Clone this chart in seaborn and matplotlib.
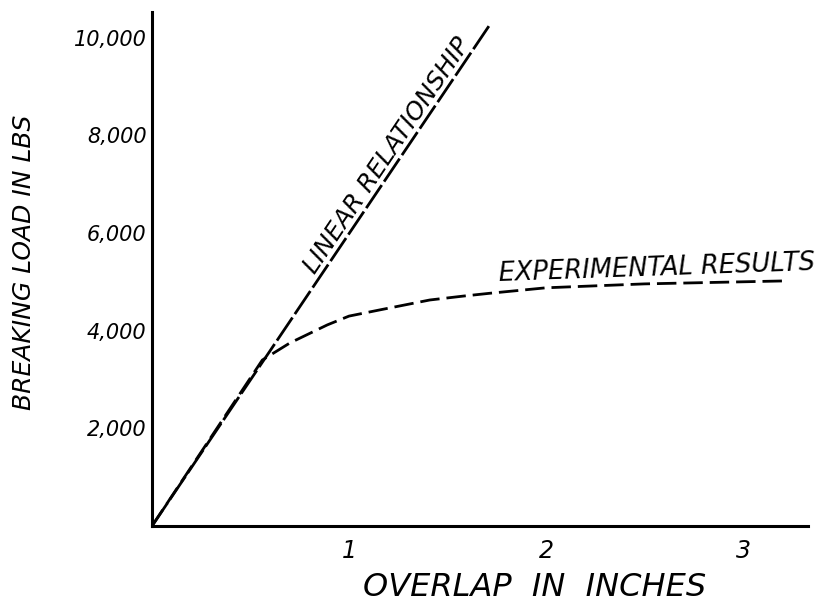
import matplotlib
matplotlib.use("Agg")
import matplotlib.pyplot as plt
import seaborn as sns
import pandas as pd

# ---- data ----
linear_x = [0.0, 1.72]
linear_y = [0, 10300]

exp_x = [0.0, 0.56, 0.70, 0.89, 1.00, 1.16, 1.41, 1.58, 1.72, 2.00, 2.50, 3.20]
exp_y = [0, 3400, 3750, 4120, 4300, 4430, 4630, 4710, 4770, 4880, 4960, 5020]

x_ticks = [1, 2, 3]
x_tick_labels = ["1", "2", "3"]
y_ticks = [2000, 4000, 6000, 8000, 10000]
y_tick_labels = ["2,000", "4,000", "6,000", "8,000", "10,000"]

x_label = "OVERLAP  IN  INCHES"
y_label = "BREAKING LOAD IN LBS"
linear_text = "LINEAR RELATIONSHIP"
exp_text = "EXPERIMENTAL RESULTS"

sns.set_style("white")
plt.rcParams["font.family"] = ["DejaVu Sans"]

fig = plt.figure(figsize=(8.3, 6.04), dpi=100)
ax = fig.add_axes([152 / 830, 1 - 526 / 604, 656 / 830, 514 / 604])

lin_df = pd.DataFrame({"x": linear_x, "y": linear_y})
exp_df = pd.DataFrame({"x": exp_x, "y": exp_y})

sns.lineplot(data=lin_df, x="x", y="y", ax=ax, color="black", lw=2.0,
             sort=False, estimator=None, linestyle=(0, (10, 1.5)))
sns.lineplot(data=exp_df, x="x", y="y", ax=ax, color="black", lw=2.0,
             sort=False, estimator=None, linestyle=(0, (7, 2.5)))

ax.set_xlim(0, 3.33)
ax.set_ylim(0, 10530)

for side in ["top", "right"]:
    ax.spines[side].set_visible(False)
for side in ["left", "bottom"]:
    ax.spines[side].set_color("black")
    ax.spines[side].set_linewidth(2.2)

ax.set_xticks(x_ticks)
ax.set_xticklabels(x_tick_labels, fontsize=17, style="italic")
ax.set_yticks(y_ticks)
ax.set_yticklabels(y_tick_labels, fontsize=15, style="italic")
ax.tick_params(axis="x", direction="in", length=18, width=1.8, pad=9, colors="black")
ax.tick_params(axis="y", direction="in", length=14, width=1.5, pad=4, colors="black")
ax.set_xlabel("")
ax.set_ylabel("")

fig.text(535 / 830, 1 - 596 / 604, x_label, ha="center", va="baseline",
         fontsize=23, style="italic", color="black")
fig.text(24 / 830, 1 - 262 / 604, y_label, ha="center", va="center",
         rotation=90, fontsize=18, style="italic", color="black")

ax.text(1.244, 7460, linear_text, rotation=56, rotation_mode="anchor",
        ha="center", va="bottom", fontsize=18, style="italic", color="black")
ax.text(1.76, 4900, exp_text, rotation=2, rotation_mode="anchor",
        ha="left", va="bottom", fontsize=18.5, style="italic", color="black",
        clip_on=False)

ax.grid(False)
fig.savefig("out.png", dpi=100, facecolor="white")
